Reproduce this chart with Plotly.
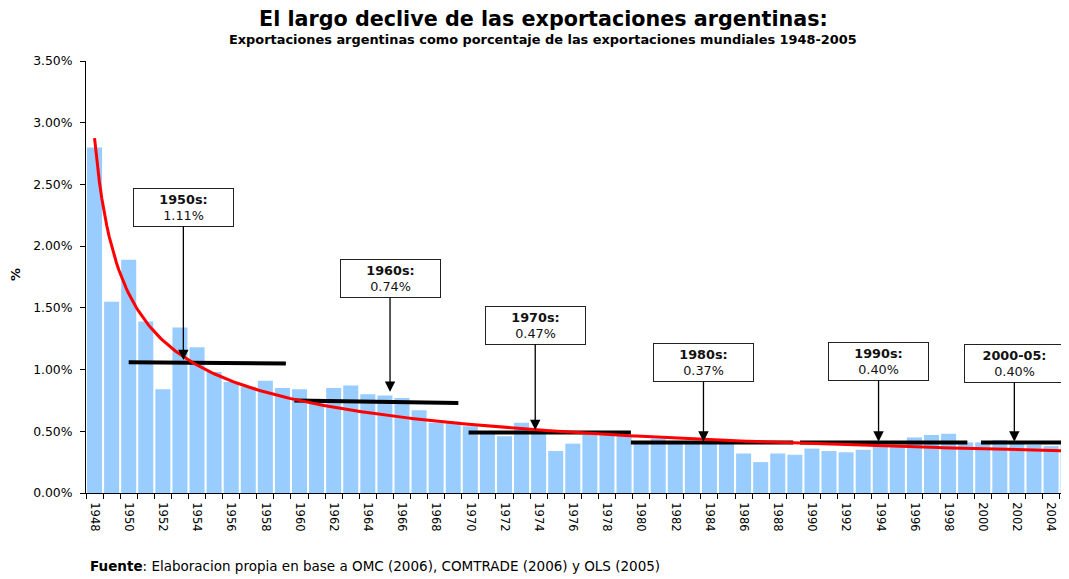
import numpy as np
import plotly.graph_objects as go

# ---- data ----
years = list(range(1948, 2006))
share = [2.80, 1.55, 1.89, 1.39, 0.84, 1.34, 1.18, 0.98, 0.90, 0.86,
         0.91, 0.85, 0.84, 0.74, 0.85, 0.87, 0.80, 0.79, 0.77, 0.67,
         0.57, 0.58, 0.54, 0.50, 0.46, 0.57, 0.50, 0.34, 0.40, 0.47,
         0.48, 0.47, 0.41, 0.44, 0.41, 0.40, 0.41, 0.40, 0.32, 0.25,
         0.32, 0.31, 0.36, 0.34, 0.33, 0.35, 0.38, 0.39, 0.45, 0.47,
         0.48, 0.41, 0.41, 0.43, 0.41, 0.39, 0.38, 0.39]

decade_names = ["1950s:", "1960s:", "1970s:", "1980s:", "1990s:", "2000-05:"]
decade_labels = ["1.11%", "0.74%", "0.47%", "0.37%", "0.40%", "0.40%"]
decade_x0 = [1950.0, 1959.7, 1969.9, 1979.4, 1989.3, 1999.9]
decade_x1 = [1959.2, 1969.3, 1979.4, 1988.9, 1999.1, 2005.5]
decade_y0 = [1.06, 0.75, 0.49, 0.41, 0.41, 0.41]
decade_y1 = [1.05, 0.73, 0.49, 0.41, 0.41, 0.41]
arrow_x = [1953.2, 1965.3, 1973.8, 1983.65, 1993.9, 2001.85]
arrow_y = [1.077, 0.82, 0.51, 0.416, 0.416, 0.416]
box_offset = [-153, -113, -105, -79, -80, -78]

tick_years = list(range(1948, 2006, 2))

# power trend line (Excel-style fit of the bars)
t = np.arange(1, len(share) + 1)
b, lna = np.polyfit(np.log(t), np.log(share), 1)
tt = np.linspace(1, len(share), 400)
trend_x = 1947 + tt
trend_y = np.exp(lna) * tt ** b

FONT = "DejaVu Sans, Verdana, sans-serif"

fig = go.Figure()
fig.add_trace(go.Bar(x=years, y=share, marker=dict(color="#99CCFF", line=dict(width=0)),
                     showlegend=False, hoverinfo="x+y"))
for i in range(len(decade_names)):
    fig.add_trace(go.Scatter(x=[decade_x0[i], decade_x1[i]], y=[decade_y0[i], decade_y1[i]],
                             mode="lines", line=dict(color="black", width=4),
                             showlegend=False))
fig.add_trace(go.Scatter(x=trend_x, y=trend_y, mode="lines",
                         line=dict(color="#FF0000", width=3), showlegend=False))

for i in range(len(decade_names)):
    fig.add_annotation(x=arrow_x[i], y=arrow_y[i], xref="x", yref="y",
                       text="<b>%s</b><br>%s" % (decade_names[i], decade_labels[i]),
                       showarrow=True, ax=0, ay=box_offset[i], arrowhead=2,
                       arrowsize=1.6, arrowwidth=1.3, arrowcolor="black",
                       bgcolor="white", bordercolor="#222222", borderwidth=1,
                       borderpad=2, width=95, height=33,
                       font=dict(family=FONT, size=12.8, color="#111111"))

fig.add_annotation(text="<b>El largo declive de las exportaciones argentinas:</b>",
                   xref="paper", yref="paper", x=0.465, y=(493 - 19) / 432,
                   showarrow=False, xanchor="center", yanchor="middle",
                   font=dict(family=FONT, size=20.7, color="black"))
fig.add_annotation(text="<b>Exportaciones argentinas como porcentaje de las exportaciones mundiales 1948-2005</b>",
                   xref="paper", yref="paper", x=0.465, y=(493 - 40) / 432,
                   showarrow=False, xanchor="center", yanchor="middle",
                   font=dict(family=FONT, size=12.9, color="black"))
fig.add_annotation(text="<b>Fuente</b>: Elaboracion propia en base a OMC (2006), COMTRADE (2006) y OLS (2005)",
                   xref="paper", yref="paper", x=0.002, y=(493 - 566) / 432,
                   showarrow=False, xanchor="left", yanchor="middle",
                   font=dict(family=FONT, size=13.5, color="black"))
fig.add_annotation(text="<b>%</b>", xref="paper", yref="paper",
                   x=(15 - 86) / 983, y=(493 - 275) / 432, textangle=-90,
                   showarrow=False, xanchor="center", yanchor="middle",
                   font=dict(family=FONT, size=13, color="black"))

# page body has an 8px margin, so the figure is sized/offset to match the window
fig.update_layout(
    width=1061, height=571,
    margin=dict(l=78, r=0, t=53, b=86),
    paper_bgcolor="white", plot_bgcolor="white",
    bargap=0.12,
    font=dict(family=FONT, color="black"),
)
fig.update_xaxes(range=[1947.5, 2005.05], tickmode="array", tickvals=tick_years,
                 ticktext=[str(y) for y in tick_years], tickangle=90,
                 ticks="outside", ticklen=0, showline=True, linecolor="black", linewidth=1,
                 showgrid=False, zeroline=False, ticklabelstandoff=6,
                 tickfont=dict(family=FONT, size=11.5, color="black"),
                 minor=dict(ticks="outside", tick0=1947.5, dtick=1, ticklen=5,
                            tickcolor="black", showgrid=False))
fig.update_yaxes(range=[0, 3.5], dtick=0.5, tickformat=".2f", ticksuffix="%",
                 ticks="outside", ticklen=5, tickcolor="black",
                 showline=True, linecolor="black", linewidth=1,
                 showgrid=False, zeroline=False, ticklabelstandoff=5,
                 tickfont=dict(family=FONT, size=12.4, color="black"))

fig.write_html("out.html")
